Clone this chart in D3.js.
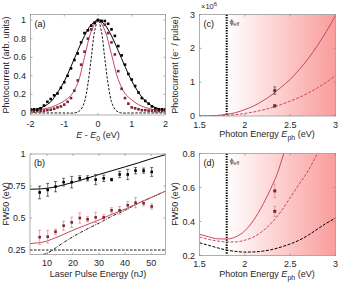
<!DOCTYPE html>
<html>
<head>
<meta charset="utf-8">
<script src="https://cdn.jsdelivr.net/npm/d3@7"></script>
<style>
body { margin: 0; background: #fff; }
svg { display: block; font-family: "Liberation Sans", Arial, sans-serif; }
</style>
</head>
<body>
<svg id="chart" width="339" height="285"></svg>
<script>
// ---- panel (a): spectra ----
const aCurveX = [-2,-1.8,-1.6,-1.4,-1.2,-1,-0.8,-0.6,-0.4,-0.2,0,0.2,0.4,0.6,0.8,1,1.2,1.4,1.6,1.8,2];
const aBlackFit = [0.03,0.045,0.07,0.12,0.22,0.34,0.5,0.67,0.83,0.95,1,0.95,0.83,0.67,0.5,0.345,0.22,0.13,0.075,0.045,0.03];
const aRedFit = [0.02,0.03,0.045,0.06,0.09,0.13,0.19,0.32,0.6,0.88,1,0.89,0.63,0.36,0.21,0.14,0.09,0.06,0.04,0.03,0.02];
const aDashX = [-2,-1,-0.7,-0.6,-0.5,-0.4,-0.3,-0.2,-0.1,0,0.1,0.2,0.3,0.4,0.5,0.6,0.7,1,2];
const aDash = [0,0,0,0.01,0.04,0.12,0.31,0.59,0.88,1,0.88,0.59,0.31,0.12,0.04,0.01,0,0,0];
const aPointX = [-2,-1.9,-1.8,-1.7,-1.6,-1.5,-1.4,-1.3,-1.2,-1.1,-1,-0.9,-0.8,-0.7,-0.6,-0.5,-0.4,-0.3,-0.2,-0.1,0,
                 0.1,0.2,0.3,0.4,0.5,0.6,0.7,0.8,0.9,1,1.1,1.2,1.3,1.4,1.5,1.6,1.7,1.8,1.9,2];
const aBlackPts = [0.04,0.04,0.035,0.05,0.08,0.12,0.15,0.19,0.21,0.27,0.33,0.4,0.48,0.57,0.64,0.76,0.86,0.89,0.94,0.97,1,
                   0.99,0.99,0.96,0.9,0.83,0.72,0.62,0.52,0.42,0.36,0.29,0.22,0.16,0.13,0.1,0.07,0.05,0.04,0.04,0.04];
const aRedPts = [0.02,0.015,0.02,0.02,0.025,0.03,0.035,0.045,0.06,0.07,0.09,0.12,0.16,0.24,0.35,0.52,0.66,0.8,0.9,0.97,1,
                 0.99,0.95,0.86,0.76,0.63,0.45,0.26,0.16,0.1,0.06,0.05,0.04,0.03,0.03,0.025,0.025,0.02,0.02,0.02,0.02];

// ---- panel (b): FW50 vs pulse energy ----
const bEnergy = [7.2,10.3,13.3,16.4,19.5,22.6,25.6,28.7,31.8,34.8,37.9,41,44,47.1,50.2];
const bBlack = [0.70,0.72,0.745,0.78,0.78,0.81,0.81,0.80,0.81,0.80,0.84,0.84,0.87,0.87,0.86];
const bBlackErr = [0.05,0.05,0.04,0.03,0.045,0.02,0.02,0.04,0.025,0.01,0.025,0.04,0.025,0.02,0.035];
const bRed = [0.35,0.354,0.393,0.44,0.466,0.50,0.49,0.505,0.505,0.56,0.56,0.60,0.62,0.615,0.59];
const bRedErr = [0.055,0.05,0.02,0.035,0.04,0.04,0.02,0.04,0.02,0.02,0.03,0.03,0.04,0.02,0.02];
const bFitX = [3.5,6,8,10,12,15,20,25,30,35,40,45,50,55.5];
const bBlackFit = [0.725,0.726,0.728,0.732,0.738,0.752,0.778,0.808,0.84,0.87,0.9,0.93,0.963,0.995];
const bRedFit = [0.30,0.305,0.31,0.32,0.335,0.36,0.405,0.445,0.485,0.53,0.57,0.615,0.66,0.71];
const bDashDotX = [8.5,10,15,20,25,30,35,40,45,50,55.5];
const bDashDot = [0.215,0.224,0.29,0.354,0.41,0.46,0.515,0.56,0.615,0.66,0.71];
const bFloor = 0.25;

// ---- panels (c) and (d): vs photon energy ----
const phiEff = 1.8;
const ephX = [1.5,1.6,1.7,1.8,1.9,2,2.1,2.2,2.3,2.4,2.5,2.6,2.7,2.8,2.9,3];
const cSolid = [0,0.003,0.018,0.05,0.1,0.19,0.3,0.45,0.63,0.85,1.08,1.37,1.7,2.08,2.5,2.97];
const cDashed = [0,0.001,0.007,0.02,0.04,0.075,0.12,0.18,0.25,0.34,0.44,0.55,0.68,0.83,1.0,1.2];
const cPointX = [2.33,2.33];
const cPoints = [0.75,0.3];
const cErr = [0.11,0.03];
const dSolidX = [1.5,1.6,1.7,1.8,1.9,2,2.1,2.2,2.3,2.35,2.4,2.43];
const dSolid = [0.325,0.31,0.298,0.297,0.31,0.345,0.41,0.5,0.61,0.67,0.75,0.8];
const dDashedX = [1.5,1.6,1.7,1.8,1.9,2,2.1,2.2,2.3,2.4,2.5,2.6,2.7,2.8];
const dDashed = [0.31,0.295,0.285,0.28,0.28,0.29,0.31,0.345,0.395,0.46,0.54,0.62,0.7,0.8];
const dBlack = [0.275,0.26,0.245,0.232,0.224,0.22,0.221,0.226,0.235,0.25,0.268,0.29,0.32,0.355,0.39,0.42];
const dPointX = [2.33,2.33];
const dPoints = [0.58,0.46];
const dErr = [0.04,0.03];

const red = "#c8485f", maroon = "#7a2536", pinkErr = "#e58a95";
const svg = d3.select("#chart");

const defs = svg.append("defs");
const grad = defs.append("linearGradient").attr("id", "shade").attr("x1", 0).attr("x2", 1).attr("y1", 0).attr("y2", 0);
grad.append("stop").attr("offset", 0).attr("stop-color", "rgb(255,255,255)");
grad.append("stop").attr("offset", 1).attr("stop-color", "rgb(250,156,156)");

let clipN = 0;
function makePanel(box, xDom, yDom) {
    const w = box.right - box.left, h = box.bottom - box.top;
    const g = svg.append("g").attr("transform", `translate(${box.left}, ${box.top})`);
    const id = "clip" + (clipN++);
    defs.append("clipPath").attr("id", id).append("rect").attr("width", w).attr("height", h);
    const x = d3.scaleLinear().domain(xDom).range([0, w]);
    const y = d3.scaleLinear().domain(yDom).range([h, 0]);
    const plot = g.append("g").attr("clip-path", `url(#${id})`);
    return { g, plot, x, y, w, h };
}

function frame(p, xTicks, yTicks, fmt) {
    const f = fmt || (d => String(d));
    const ax = p.g.append("g").attr("class", "axes");
    ax.append("rect").attr("width", p.w).attr("height", p.h)
        .attr("fill", "none").attr("stroke", "#8c8c8c").attr("stroke-width", 0.7);
    xTicks.forEach(t => {
        ax.append("line").attr("x1", p.x(t)).attr("x2", p.x(t)).attr("y1", p.h).attr("y2", p.h - 2)
            .attr("stroke", "#8c8c8c").attr("stroke-width", 0.7);
        ax.append("line").attr("x1", p.x(t)).attr("x2", p.x(t)).attr("y1", 0).attr("y2", 2)
            .attr("stroke", "#8c8c8c").attr("stroke-width", 0.7);
        ax.append("text").attr("x", p.x(t)).attr("y", p.h + 11.5).attr("text-anchor", "middle")
            .attr("font-size", 9).attr("fill", "#262626").text(f(t));
    });
    yTicks.forEach(t => {
        ax.append("line").attr("x1", 0).attr("x2", 2).attr("y1", p.y(t)).attr("y2", p.y(t))
            .attr("stroke", "#8c8c8c").attr("stroke-width", 0.7);
        ax.append("line").attr("x1", p.w).attr("x2", p.w - 2).attr("y1", p.y(t)).attr("y2", p.y(t))
            .attr("stroke", "#8c8c8c").attr("stroke-width", 0.7);
        ax.append("text").attr("x", -4.5).attr("y", p.y(t) + 3).attr("text-anchor", "end")
            .attr("font-size", 9).attr("fill", "#262626").text(f(t));
    });
}

function curve(p, xs, ys, color, dash, width, curveType) {
    const line = d3.line().x(d => p.x(d[0])).y(d => p.y(d[1])).curve(curveType || d3.curveCatmullRom);
    p.plot.append("path").datum(d3.zip(xs, ys)).attr("d", line)
        .attr("fill", "none").attr("stroke", color).attr("stroke-width", width || 1)
        .attr("stroke-dasharray", dash || null);
}

function squares(p, xs, ys, fill, size) {
    const s = size || 2.6;
    p.plot.selectAll(null).data(d3.zip(xs, ys)).enter().append("rect")
        .attr("x", d => p.x(d[0]) - s / 2).attr("y", d => p.y(d[1]) - s / 2)
        .attr("width", s).attr("height", s).attr("fill", fill);
}

function errorBars(p, xs, ys, errs, color) {
    d3.zip(xs, ys, errs).forEach(d => {
        const cx = p.x(d[0]);
        p.plot.append("line").attr("x1", cx).attr("x2", cx).attr("y1", p.y(d[1] - d[2])).attr("y2", p.y(d[1] + d[2]))
            .attr("stroke", color).attr("stroke-width", 0.8);
        [d[1] - d[2], d[1] + d[2]].forEach(v => {
            p.plot.append("line").attr("x1", cx - 1.5).attr("x2", cx + 1.5).attr("y1", p.y(v)).attr("y2", p.y(v))
                .attr("stroke", color).attr("stroke-width", 0.8);
        });
    });
}

function panelTag(p, s) {
    p.g.append("text").attr("x", 4).attr("y", 12).attr("font-size", 9).attr("fill", "#111").text(s);
}

function shade(p) {
    p.plot.append("rect").attr("x", p.x(phiEff)).attr("y", 0)
        .attr("width", p.x(3) - p.x(phiEff)).attr("height", p.h).attr("fill", "url(#shade)");
    p.plot.append("line").attr("x1", p.x(phiEff)).attr("x2", p.x(phiEff)).attr("y1", 0).attr("y2", p.h)
        .attr("stroke", "#000").attr("stroke-width", 2).attr("stroke-dasharray", "1.4,1.2");
    const t = p.g.append("text").attr("x", p.x(phiEff) + 3).attr("y", 9).attr("font-size", 7).attr("fill", "#333");
    t.append("tspan").text("ϕ");
    t.append("tspan").attr("dy", 2).attr("font-size", 5).text("eff");
}

function yLabel(x, y, build) {
    const t = svg.append("text").attr("transform", `translate(${x}, ${y}) rotate(-90)`)
        .attr("text-anchor", "middle").attr("font-size", 9).attr("fill", "#262626");
    build(t);
}
function xLabel(x, y, build) {
    const t = svg.append("text").attr("x", x).attr("y", y)
        .attr("text-anchor", "middle").attr("font-size", 9).attr("fill", "#262626");
    build(t);
}

// (a)
const pa = makePanel({ left: 30.5, top: 14.5, right: 165.5, bottom: 115 }, [-2, 2], [-0.022, 1.06]);
curve(pa, aDashX, aDash, "#000", "2.5,1.5", 0.9);
curve(pa, aCurveX, aRedFit, red, null, 1);
curve(pa, aCurveX, aBlackFit, "#000", null, 1);
squares(pa, aPointX, aRedPts, maroon);
squares(pa, aPointX, aBlackPts, "#000");
frame(pa, [-2, -1, 0, 1, 2], [0, 0.2, 0.4, 0.6, 0.8, 1]);
panelTag(pa, "(a)");

// (b)
const pb = makePanel({ left: 30, top: 154, right: 165.5, bottom: 254.5 }, [3.5, 55.5], [0.215, 1]);
pb.plot.append("line").attr("x1", 0).attr("x2", pb.w).attr("y1", pb.y(bFloor)).attr("y2", pb.y(bFloor))
    .attr("stroke", "#000").attr("stroke-width", 0.9).attr("stroke-dasharray", "2.5,1.5");
curve(pb, bDashDotX, bDashDot, "#000", "3,1.2,0.8,1.2", 0.9, d3.curveMonotoneX);
curve(pb, bFitX, bRedFit, red, null, 1, d3.curveMonotoneX);
curve(pb, bFitX, bBlackFit, "#000", null, 1, d3.curveMonotoneX);
errorBars(pb, bEnergy, bRed, bRedErr, pinkErr);
errorBars(pb, bEnergy, bBlack, bBlackErr, "#444");
squares(pb, bEnergy, bRed, maroon);
squares(pb, bEnergy, bBlack, "#000");
frame(pb, [10, 20, 30, 40, 50], [0.25, 0.5, 0.75, 1]);
panelTag(pb, "(b)");

// (c)
const pc = makePanel({ left: 199.5, top: 14.5, right: 335.5, bottom: 116 }, [1.5, 3], [0, 3]);
shade(pc);
curve(pc, ephX, cDashed, red, "3,1.5", 1, d3.curveMonotoneX);
curve(pc, ephX, cSolid, red, null, 1, d3.curveMonotoneX);
errorBars(pc, cPointX, cPoints, cErr, "#555");
squares(pc, cPointX, cPoints, maroon, 3);
frame(pc, [1.5, 2, 2.5, 3], [0, 1, 2, 3]);
panelTag(pc, "(c)");
const mult = svg.append("text").attr("x", 201).attr("y", 9).attr("font-size", 7.5).attr("fill", "#262626");
mult.append("tspan").text("×10");
mult.append("tspan").attr("dy", -3).attr("font-size", 6).text("6");

// (d)
const pd = makePanel({ left: 199.5, top: 153.5, right: 335.5, bottom: 255.5 }, [1.5, 3], [0.2, 0.8]);
shade(pd);
curve(pd, ephX, dBlack, "#000", "3,1.5", 1, d3.curveMonotoneX);
curve(pd, dDashedX, dDashed, red, "3,1.5", 1, d3.curveMonotoneX);
curve(pd, dSolidX, dSolid, red, null, 1, d3.curveMonotoneX);
errorBars(pd, dPointX, dPoints, dErr, pinkErr);
squares(pd, dPointX, dPoints, maroon, 3);
frame(pd, [1.5, 2, 2.5, 3], [0.2, 0.4, 0.6, 0.8]);
panelTag(pd, "(d)");

// axis labels
yLabel(9, 65, t => t.text("Photocurrent (arb. units)"));
xLabel(98, 138, t => {
    t.append("tspan").attr("font-style", "italic").text("E");
    t.append("tspan").text(" - ");
    t.append("tspan").attr("font-style", "italic").text("E");
    t.append("tspan").attr("dy", 2.5).attr("font-size", 7).text("0");
    t.append("tspan").attr("dy", -2.5).text(" (eV)");
});
yLabel(9, 204, t => t.text("FW50 (eV)"));
xLabel(98, 277, t => t.text("Laser Pulse Energy (nJ)"));
yLabel(178, 65, t => {
    t.append("tspan").text("Photocurrent (e");
    t.append("tspan").attr("dy", -3).attr("font-size", 6).text("−");
    t.append("tspan").attr("dy", 3).text(" / pulse)");
});
xLabel(267, 137, t => {
    t.append("tspan").text("Photon Energy ");
    t.append("tspan").attr("font-style", "italic").text("E");
    t.append("tspan").attr("dy", 2.5).attr("font-size", 7).text("ph");
    t.append("tspan").attr("dy", -2.5).text(" (eV)");
});
yLabel(178, 204, t => t.text("FW50 (eV)"));
xLabel(267, 277, t => {
    t.append("tspan").text("Photon Energy ");
    t.append("tspan").attr("font-style", "italic").text("E");
    t.append("tspan").attr("dy", 2.5).attr("font-size", 7).text("ph");
    t.append("tspan").attr("dy", -2.5).text(" (eV)");
});
</script>
</body>
</html>
